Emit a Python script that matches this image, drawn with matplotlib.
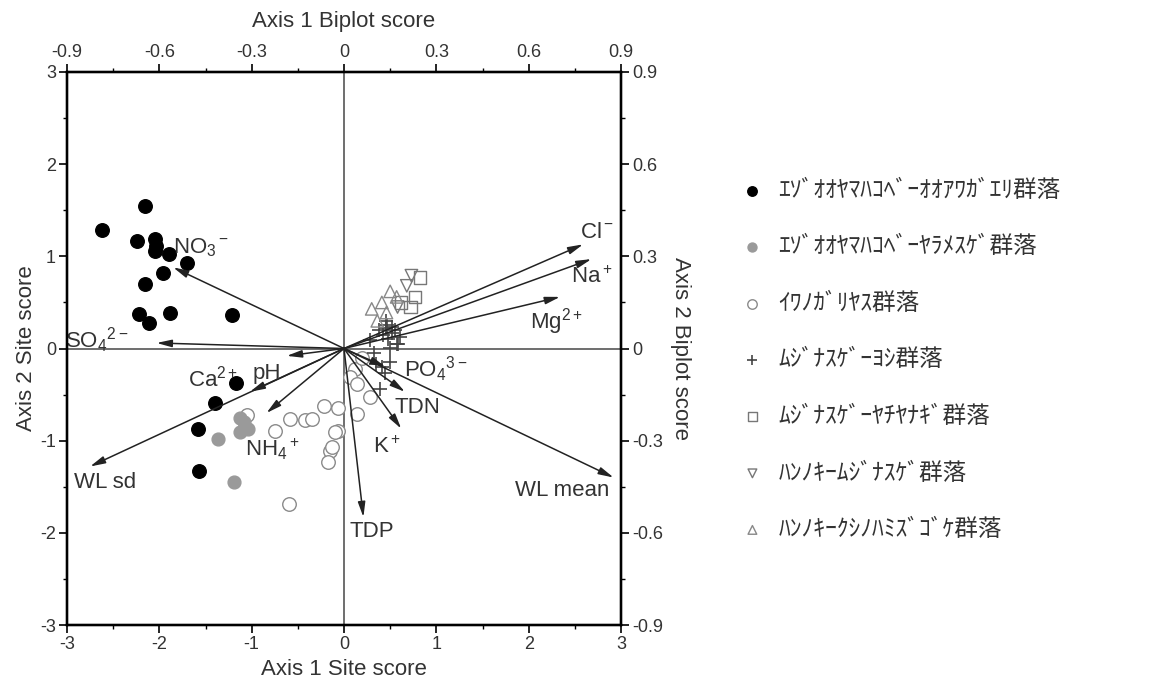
import matplotlib
matplotlib.use("Agg")
import matplotlib.pyplot as plt
from matplotlib.ticker import MultipleLocator
from matplotlib.font_manager import FontProperties

plt.rcParams['font.family'] = ['Liberation Sans', 'Noto Sans CJK JP']
plt.rcParams['axes.unicode_minus'] = False
plt.rcParams['mathtext.fontset'] = 'custom'
plt.rcParams['mathtext.rm'] = 'Liberation Sans'
plt.rcParams['mathtext.it'] = 'Liberation Sans:italic'
plt.rcParams['mathtext.bf'] = 'Liberation Sans:bold'
plt.rcParams['mathtext.default'] = 'regular'

# site scores per community
x1 = [-2.62, -2.15, -2.24, -2.05, -2.04, -2.05, -1.89, -1.70, -1.96, -2.15, -2.22, -2.11, -1.88, -1.21,
      -1.17, -1.40, -1.58, -1.57]
y1 = [1.29, 1.55, 1.17, 1.19, 1.11, 1.06, 1.02, 0.93, 0.82, 0.70, 0.37, 0.28, 0.39, 0.36,
      -0.37, -0.59, -0.87, -1.33]
x2 = [-1.36, -1.13, -1.13, -1.04, -1.19, -1.08]
y2 = [-0.98, -0.75, -0.91, -0.87, -1.45, -0.80]
x3 = [-1.05, -0.75, -0.58, -0.42, -0.35, -0.22, -0.06, 0.14, -0.06, -0.15, -0.17, -0.60, 0.28, 0.12,
      0.07, 0.14, -0.10, -0.13, 0.20]
y3 = [-0.72, -0.89, -0.76, -0.78, -0.77, -0.62, -0.65, -0.71, -0.89, -1.11, -1.23, -1.69, -0.53, -0.22,
      -0.31, -0.38, -0.91, -1.07, -0.10]
x4 = [0.52, 0.61, 0.50, 0.35, 0.41, 0.57, 0.46, 0.28, 0.39, 0.44, 0.50, 0.59, 0.42, 0.55, 0.33, 0.48,
      0.45, 0.52, 0.38, 0.47]
y4 = [0.23, 0.12, 0.01, -0.17, -0.20, 0.05, 0.30, 0.09, -0.44, -0.27, -0.15, 0.05, 0.15, 0.20, -0.05, 0.10,
      0.22, 0.17, 0.20, 0.26]
x5 = [0.82, 0.77, 0.72, 0.62]
y5 = [0.77, 0.56, 0.45, 0.50]
x6 = [0.73, 0.68, 0.58]
y6 = [0.79, 0.68, 0.45]
x7 = [0.30, 0.41, 0.57, 0.46, 0.36, 0.50]
y7 = [0.43, 0.50, 0.56, 0.39, 0.30, 0.62]

groups = ['ｴｿﾞｵｵﾔﾏﾊｺﾍﾞｰｵｵｱﾜｶﾞｴﾘ群落',
          'ｴｿﾞｵｵﾔﾏﾊｺﾍﾞｰﾔﾗﾒｽｹﾞ群落',
          'ｲﾜﾉｶﾞﾘﾔｽ群落',
          'ﾑｼﾞﾅｽｹﾞｰﾖｼ群落',
          'ﾑｼﾞﾅｽｹﾞｰﾔﾁﾔﾅｷﾞ群落',
          'ﾊﾝﾉｷｰﾑｼﾞﾅｽｹﾞ群落',
          'ﾊﾝﾉｷｰｸｼﾉﾊﾐｽﾞｺﾞｹ群落']

# environmental variables (biplot scores)
env_names = ['Cl$^-$', 'Na$^+$', 'Mg$^{2+}$', 'NO$_3$$^-$', 'SO$_4$$^{2-}$', 'pH', 'Ca$^{2+}$', 'WL sd',
             'NH$_4$$^+$', 'TDP', 'K$^+$', 'TDN', 'WL mean', 'PO$_4$$^{3-}$']
env_x = [0.777, 0.804, 0.702, -0.555, -0.609, -0.186, -0.306, -0.825, -0.252, 0.063, 0.186, 0.198, 0.876, 0.135]
env_y = [0.339, 0.291, 0.168, 0.264, 0.018, -0.024, -0.141, -0.384, -0.210, -0.549, -0.261, -0.141, -0.420, -0.060]
# label anchors (site score units)
lab_x = [2.74, 2.68, 2.30, -1.55, -2.68, -0.84, -1.42, -2.59, -0.78, 0.30, 0.46, 0.79, 2.36, 0.99]
lab_y = [1.26, 0.77, 0.29, 1.09, 0.09, -0.27, -0.33, -1.45, -1.09, -1.99, -1.07, -0.64, -1.54, -0.22]

scale = 3 / 0.9
txt = '#333333'

fig = plt.figure(figsize=(11.62, 6.84), dpi=100)
ax = fig.add_axes([67 / 1162, 1 - 625 / 684, 554 / 1162, 553 / 684])
ax.set_xlim(-3, 3)
ax.set_ylim(-3, 3)
ax.axhline(0, color='#555555', lw=1.2, zorder=1)
ax.axvline(0, color='#555555', lw=1.2, zorder=1)

h = []
h.append(ax.scatter(x1, y1, s=95, c='black', edgecolors='black', zorder=3))
h.append(ax.scatter(x2, y2, s=85, c='#9a9a9a', edgecolors='#9a9a9a', zorder=3))
h.append(ax.scatter(x3, y3, s=95, facecolors='white', edgecolors='#8a8a8a', lw=1, zorder=2))
h.append(ax.scatter(x4, y4, s=90, marker='+', c='#444444', lw=1.2, zorder=3))
h.append(ax.scatter(x5, y5, s=80, marker='s', facecolors='none', edgecolors='#777777', lw=1, zorder=3))
h.append(ax.scatter(x6, y6, s=80, marker='v', facecolors='none', edgecolors='#777777', lw=1, zorder=3))
h.append(ax.scatter(x7, y7, s=80, marker='^', facecolors='none', edgecolors='#888888', lw=1, zorder=3))

for name, ex, ey, lx, ly in zip(env_names, env_x, env_y, lab_x, lab_y):
    ax.annotate('', xy=(ex * scale, ey * scale), xytext=(0, 0),
                arrowprops=dict(arrowstyle='-|>,head_length=0.9,head_width=0.22', color='#222222',
                                lw=1.1, shrinkA=0, shrinkB=0), zorder=4)
    ax.text(lx, ly, name, fontsize=16, color=txt, ha='center', va='center', zorder=5)

for sp in ax.spines.values():
    sp.set_linewidth(1.6)
ax.set_xticks(range(-3, 4))
ax.set_yticks(range(-3, 4))
ax.xaxis.set_minor_locator(MultipleLocator(0.5))
ax.yaxis.set_minor_locator(MultipleLocator(0.5))
ax.tick_params(which='major', direction='out', length=6, width=1.2, labelsize=13, labelcolor=txt, pad=2)
ax.tick_params(which='minor', direction='out', length=3, width=1)
ax.set_xlabel('Axis 1 Site score', fontsize=16, color=txt, labelpad=4)
ax.set_ylabel('Axis 2 Site score', fontsize=16, color=txt, labelpad=2)

biplot_ticks = [-0.9, -0.6, -0.3, 0, 0.3, 0.6, 0.9]
biplot_labels = ['-0.9', '-0.6', '-0.3', '0', '0.3', '0.6', '0.9']
axt = ax.twiny()
axt.set_xlim(-0.9, 0.9)
axt.set_xticks(biplot_ticks, biplot_labels)
axt.xaxis.set_minor_locator(MultipleLocator(0.15))
axt.set_xlabel('Axis 1 Biplot score', fontsize=16, color=txt, labelpad=12)
axr = ax.twinx()
axr.set_ylim(-0.9, 0.9)
axr.set_yticks(biplot_ticks, biplot_labels)
axr.yaxis.set_minor_locator(MultipleLocator(0.15))
axr.set_ylabel('Axis 2 Biplot score', fontsize=16, color=txt, rotation=270, labelpad=20)
for a in (axt, axr):
    a.tick_params(which='major', direction='out', length=6, width=1.2, labelsize=13, labelcolor=txt, pad=2)
    a.tick_params(which='minor', direction='out', length=3, width=1)
    for sp in a.spines.values():
        sp.set_linewidth(1.6)

fig.legend(h, groups, loc='center left', bbox_to_anchor=(717 / 1162, 1 - 360 / 684),
           frameon=False, markerscale=0.7, handlelength=1.2, handletextpad=0.5, labelspacing=1.42,
           prop=FontProperties(family=['Noto Sans CJK JP'], size=17), labelcolor=txt)

fig.savefig('out.png', dpi=100)
